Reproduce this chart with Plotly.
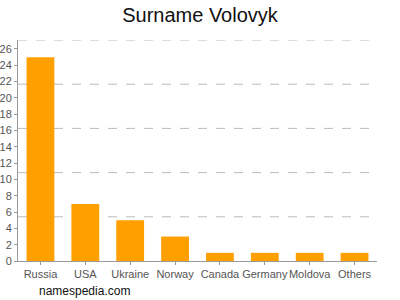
import plotly.graph_objects as go

categories = ["Russia", "USA", "Ukraine", "Norway", "Canada", "Germany", "Moldova", "Others"]
values = [25, 7, 5, 3, 1, 1, 1, 1]
y_ticks = list(range(0, 27, 2))
y_max = 27.1
grid_vals = [y_max * k / 5 for k in range(1, 6)]

fig = go.Figure()
fig.add_trace(go.Bar(x=categories, y=values, marker=dict(color="#FFA000", line=dict(width=0)),
                     hoverinfo="skip"))

font = "Liberation Sans, Arial, sans-serif"
fig.update_layout(
    width=400, height=300,
    margin=dict(l=18, r=23, t=40, b=39),
    paper_bgcolor="white", plot_bgcolor="white",
    showlegend=False,
    bargap=0.38,
    title=dict(text="Surname Volovyk", x=0.5, xanchor="center", y=0.95, yanchor="middle",
               font=dict(family=font, size=20, color="#111")),
    xaxis=dict(showgrid=False, showline=True, linecolor="#999", linewidth=1,
               ticks="outside", ticklen=3, tickcolor="#999", tickangle=0, automargin=False,
               tickfont=dict(family=font, size=11, color="#555")),
    yaxis=dict(range=[0, y_max], tickvals=y_ticks, showgrid=False, zeroline=False,
               showline=True, linecolor="#999", linewidth=1, automargin=False,
               ticks="outside", ticklen=3, tickcolor="#999",
               tickfont=dict(family=font, size=11, color="#555")),
    shapes=[dict(type="line", xref="paper", x0=0, x1=1, yref="y", y0=g, y1=g,
                 line=dict(color="#bbb", width=1, dash="dash"), layer="below")
            for g in grid_vals],
)
fig.update_layout(annotations=[dict(text="namespedia.com", xref="paper", yref="paper",
                                    x=(37-18)/359, y=-(291-261)/221, xanchor="left", yanchor="middle",
                                    showarrow=False, font=dict(family=font, size=12, color="#111"))])
fig.write_html("out.html")
